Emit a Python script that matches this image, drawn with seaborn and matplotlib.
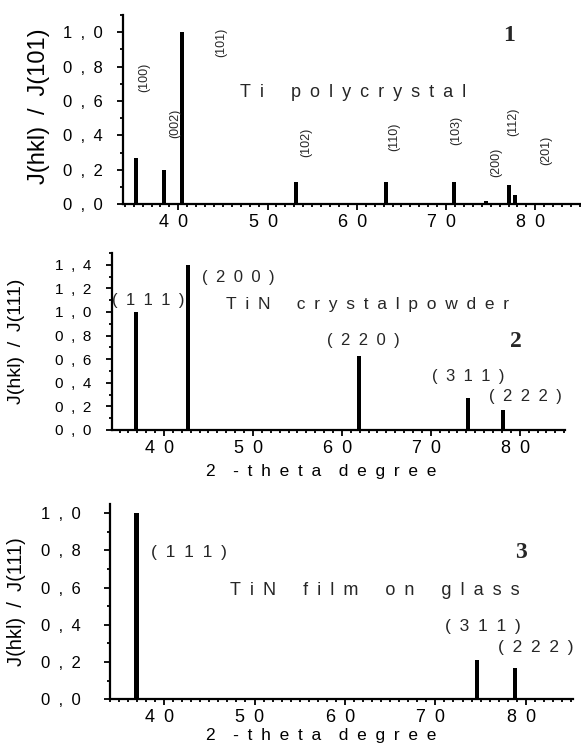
import matplotlib
matplotlib.use("Agg")
import matplotlib.pyplot as plt
import seaborn as sns
import numpy as np
from matplotlib.ticker import MultipleLocator, FuncFormatter

# --- data ---
ti_pos = [35.25, 38.4, 40.4, 53.2, 63.3, 70.9, 74.45, 77.05, 77.7]
ti_int = [0.27, 0.20, 1.00, 0.13, 0.13, 0.13, 0.02, 0.11, 0.05]
ti_hkl = ["(100)", "(002)", "(101)", "(102)", "(110)", "(103)", "(200)", "(112)", "(201)"]

powder_pos = [36.8, 42.75, 61.9, 74.2, 78.1]
powder_int = [1.0, 1.4, 0.63, 0.27, 0.17]
powder_hkl = ["(111)", "(200)", "(220)", "(311)", "(222)"]

film_pos = [36.95, 42.8, 62.1, 74.55, 78.85]
film_int = [1.0, 0.005, 0.005, 0.21, 0.17]
film_hkl = ["(111)", "", "", "(311)", "(222)"]

x_major = [40, 50, 60, 70, 80]

sns.set_theme(style="ticks")
plt.rcParams['font.family'] = ['Liberation Sans', 'DejaVu Sans']

EN = "\u2002"
YLAB = "J(hkl)" + EN + "/" + EN + "J({})"


def spread(text, word_gap=3):
    """letter-spaced text like the scanned original"""
    words = text.split(" ")
    return (EN * word_gap).join(EN.join(w) for w in words)


def draw_bars(ax, pos, val, bar_w=0.45):
    native = np.min(np.diff(sorted(pos)))
    sns.barplot(x=pos, y=val, native_scale=True, width=bar_w / native,
                color="black", errorbar=None, linewidth=0, ax=ax)


def style_axes(ax, xlim, ylim, ypad, ysize, xsize):
    ax.set_xlim(*xlim)
    ax.set_ylim(*ylim)
    sns.despine(ax=ax)
    for s in ("left", "bottom"):
        ax.spines[s].set_linewidth(1.6)
        ax.spines[s].set_color("black")
    ax.xaxis.set_major_locator(matplotlib.ticker.FixedLocator(x_major))
    ax.xaxis.set_minor_locator(MultipleLocator(1))
    ax.yaxis.set_major_locator(MultipleLocator(0.2))
    ax.yaxis.set_minor_locator(MultipleLocator(0.1))
    # trailing gap pushes the label a little left of its tick, as in the scan
    ax.xaxis.set_major_formatter(FuncFormatter(lambda v, p: spread(f"{v:.0f}") + EN))
    ax.yaxis.set_major_formatter(
        FuncFormatter(lambda v, p: spread(f"{v:.1f}".replace(".", ","))))
    ax.tick_params(axis="both", which="major", direction="out", length=4,
                   width=1.3, colors="black")
    ax.tick_params(axis="both", which="minor", direction="out", length=2,
                   width=1.3, colors="black")
    ax.tick_params(axis="y", which="major", pad=ypad, labelsize=ysize)
    ax.tick_params(axis="x", which="major", pad=3, labelsize=xsize)
    ax.set_facecolor("white")


fig = plt.figure(figsize=(5.81, 7.53), dpi=100)
fig.patch.set_facecolor("white")

# ---------- panel 1: Ti polycrystal ----------
ax1 = fig.add_axes([0.2117, 0.729, 0.788, 0.251])
draw_bars(ax1, ti_pos, ti_int)
style_axes(ax1, (33.8, 85.1), (0, 1.1), 10.5, 12, 13)
ax1.set_xlabel("")
ax1.set_ylabel(YLAB.format("101"), fontsize=17, color="black")
ax1.yaxis.set_label_coords(-0.16, 0.52)
ti_lab_x = [36.2, 39.6, 44.8, 54.3, 64.2, 71.1, 75.6, 77.55, 81.2]
ti_lab_y = [0.74, 0.47, 0.94, 0.36, 0.39, 0.43, 0.24, 0.48, 0.31]
for lx, ly, t in zip(ti_lab_x, ti_lab_y, ti_hkl):
    ax1.text(lx, ly, t, rotation=90, fontsize=9, ha="center", va="center")
ax1.text(59.6, 0.65, spread("Ti polycrystal"), fontsize=13, ha="center", va="center")
ax1.text(77.1, 0.98, "1", fontsize=17, fontweight="bold",
         family="Liberation Serif", ha="center", va="center")

# ---------- panel 2: TiN crystal powder ----------
ax2 = fig.add_axes([0.192, 0.429, 0.780, 0.235])
draw_bars(ax2, powder_pos, powder_int)
style_axes(ax2, (34.1, 85.06), (0, 1.5), 10.5, 11, 13)
ax2.set_xlabel(spread("2 -theta degree", 2), fontsize=12.5, color="black")
ax2.xaxis.set_label_coords(0.462, -0.19)
ax2.set_ylabel(YLAB.format("111"), fontsize=14, color="black")
ax2.yaxis.set_label_coords(-0.19, 0.5)
pw_lab_x = [38.2, 48.4, 62.4, 74.25, 80.6]
pw_lab_y = [1.10, 1.29, 0.76, 0.45, 0.28]
for lx, ly, t in zip(pw_lab_x, pw_lab_y, powder_hkl):
    ax2.text(lx, ly, spread(t), fontsize=12, ha="center", va="center")
ax2.text(62.9, 1.06, spread("TiN crystalpowder"), fontsize=12.5, ha="center", va="center")
ax2.text(79.6, 0.75, "2", fontsize=17, fontweight="bold",
         family="Liberation Serif", ha="center", va="center")

# ---------- panel 3: TiN film on glass ----------
ax3 = fig.add_axes([0.189, 0.0713, 0.797, 0.2597])
draw_bars(ax3, film_pos, film_int)
style_axes(ax3, (34.0, 85.2), (0, 1.05), 17, 12, 13)
ax3.set_xlabel(spread("2 -theta degree", 2), fontsize=12.5, color="black")
ax3.xaxis.set_label_coords(0.457, -0.145)
ax3.set_ylabel(YLAB.format("111"), fontsize=14.5, color="black")
ax3.yaxis.set_label_coords(-0.18, 0.5)
fm_lab_x = [42.8, 0, 0, 75.3, 81.1]
fm_lab_y = [0.79, 0, 0, 0.39, 0.28]
for lx, ly, t in zip(fm_lab_x, fm_lab_y, film_hkl):
    if t:
        ax3.text(lx, ly, spread(t), fontsize=12.5, ha="center", va="center")
ax3.text(63.3, 0.586, spread("TiN film on glass"), fontsize=13, ha="center", va="center")
ax3.text(79.5, 0.79, "3", fontsize=17, fontweight="bold",
         family="Liberation Serif", ha="center", va="center")

fig.savefig("out.png", dpi=100, facecolor="white")
